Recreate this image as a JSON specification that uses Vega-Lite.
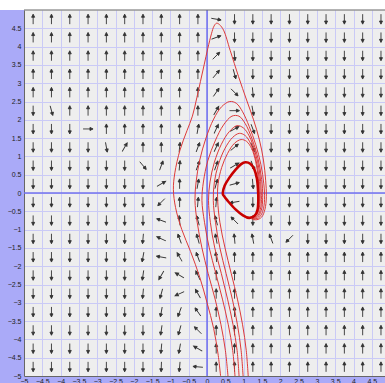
{
"$schema": "https://vega.github.io/schema/vega-lite/v6.json",
"width": 361, "height": 366,
"autosize": {"type": "none"},
"padding": {"left": 24, "top": 10, "right": 0, "bottom": 7},
"background": "#aaaaf8",
"config": {
  "view": {"fill": "#eeeeee", "stroke": null},
  "axis": {"domainColor": "#666666", "domainWidth": 1, "ticks": false, "gridColor": "#cacaf6", "gridWidth": 1, "gridOpacity": 1, "labelFont": "Liberation Sans", "labelFontSize": 7, "labelColor": "#222222", "labelOverlap": false, "labelFlush": false, "labelBound": false, "title": null, "grid": true, "format": "~g", "tickCount": 40},
  "axisX": {"labelPadding": 1},
  "axisY": {"labelPadding": 3}
},
"datasets": {
"field": [
{"x":-4.75,"y":4.75,"a":0},{"x":-4.25,"y":4.75,"a":0},{"x":-3.75,"y":4.75,"a":0},{"x":-3.25,"y":4.75,"a":0},{"x":-2.75,"y":4.75,"a":0},{"x":-2.25,"y":4.75,"a":0},{"x":-1.75,"y":4.75,"a":0},{"x":-1.25,"y":4.75,"a":0},{"x":-0.75,"y":4.75,"a":0},{"x":-0.25,"y":4.75,"a":0},{"x":0.25,"y":4.75,"a":100},{"x":0.75,"y":4.75,"a":180},{"x":1.25,"y":4.75,"a":180},{"x":1.75,"y":4.75,"a":180},{"x":2.25,"y":4.75,"a":180},{"x":2.75,"y":4.75,"a":180},{"x":3.25,"y":4.75,"a":180},{"x":3.75,"y":4.75,"a":180},{"x":4.25,"y":4.75,"a":180},{"x":4.75,"y":4.75,"a":180},
{"x":-4.75,"y":4.25,"a":0},{"x":-4.25,"y":4.25,"a":0},{"x":-3.75,"y":4.25,"a":0},{"x":-3.25,"y":4.25,"a":0},{"x":-2.75,"y":4.25,"a":0},{"x":-2.25,"y":4.25,"a":0},{"x":-1.75,"y":4.25,"a":0},{"x":-1.25,"y":4.25,"a":0},{"x":-0.75,"y":4.25,"a":0},{"x":-0.25,"y":4.25,"a":0},{"x":0.25,"y":4.25,"a":70},{"x":0.75,"y":4.25,"a":180},{"x":1.25,"y":4.25,"a":180},{"x":1.75,"y":4.25,"a":180},{"x":2.25,"y":4.25,"a":180},{"x":2.75,"y":4.25,"a":180},{"x":3.25,"y":4.25,"a":180},{"x":3.75,"y":4.25,"a":180},{"x":4.25,"y":4.25,"a":180},{"x":4.75,"y":4.25,"a":180},
{"x":-4.75,"y":3.75,"a":0},{"x":-4.25,"y":3.75,"a":0},{"x":-3.75,"y":3.75,"a":0},{"x":-3.25,"y":3.75,"a":0},{"x":-2.75,"y":3.75,"a":0},{"x":-2.25,"y":3.75,"a":0},{"x":-1.75,"y":3.75,"a":0},{"x":-1.25,"y":3.75,"a":0},{"x":-0.75,"y":3.75,"a":0},{"x":-0.25,"y":3.75,"a":0},{"x":0.25,"y":3.75,"a":45},{"x":0.75,"y":3.75,"a":175},{"x":1.25,"y":3.75,"a":180},{"x":1.75,"y":3.75,"a":180},{"x":2.25,"y":3.75,"a":180},{"x":2.75,"y":3.75,"a":180},{"x":3.25,"y":3.75,"a":180},{"x":3.75,"y":3.75,"a":180},{"x":4.25,"y":3.75,"a":180},{"x":4.75,"y":3.75,"a":180},
{"x":-4.75,"y":3.25,"a":0},{"x":-4.25,"y":3.25,"a":0},{"x":-3.75,"y":3.25,"a":0},{"x":-3.25,"y":3.25,"a":0},{"x":-2.75,"y":3.25,"a":0},{"x":-2.25,"y":3.25,"a":0},{"x":-1.75,"y":3.25,"a":0},{"x":-1.25,"y":3.25,"a":0},{"x":-0.75,"y":3.25,"a":0},{"x":-0.25,"y":3.25,"a":0},{"x":0.25,"y":3.25,"a":40},{"x":0.75,"y":3.25,"a":165},{"x":1.25,"y":3.25,"a":180},{"x":1.75,"y":3.25,"a":180},{"x":2.25,"y":3.25,"a":180},{"x":2.75,"y":3.25,"a":180},{"x":3.25,"y":3.25,"a":180},{"x":3.75,"y":3.25,"a":180},{"x":4.25,"y":3.25,"a":180},{"x":4.75,"y":3.25,"a":180},
{"x":-4.75,"y":2.75,"a":0},{"x":-4.25,"y":2.75,"a":0},{"x":-3.75,"y":2.75,"a":0},{"x":-3.25,"y":2.75,"a":0},{"x":-2.75,"y":2.75,"a":0},{"x":-2.25,"y":2.75,"a":0},{"x":-1.75,"y":2.75,"a":0},{"x":-1.25,"y":2.75,"a":0},{"x":-0.75,"y":2.75,"a":0},{"x":-0.25,"y":2.75,"a":0},{"x":0.25,"y":2.75,"a":35},{"x":0.75,"y":2.75,"a":135},{"x":1.25,"y":2.75,"a":175},{"x":1.75,"y":2.75,"a":180},{"x":2.25,"y":2.75,"a":180},{"x":2.75,"y":2.75,"a":180},{"x":3.25,"y":2.75,"a":180},{"x":3.75,"y":2.75,"a":180},{"x":4.25,"y":2.75,"a":180},{"x":4.75,"y":2.75,"a":180},
{"x":-4.75,"y":2.25,"a":180},{"x":-4.25,"y":2.25,"a":165},{"x":-3.75,"y":2.25,"a":0},{"x":-3.25,"y":2.25,"a":0},{"x":-2.75,"y":2.25,"a":0},{"x":-2.25,"y":2.25,"a":0},{"x":-1.75,"y":2.25,"a":0},{"x":-1.25,"y":2.25,"a":0},{"x":-0.75,"y":2.25,"a":0},{"x":-0.25,"y":2.25,"a":0},{"x":0.25,"y":2.25,"a":30},{"x":0.75,"y":2.25,"a":90},{"x":1.25,"y":2.25,"a":170},{"x":1.75,"y":2.25,"a":180},{"x":2.25,"y":2.25,"a":180},{"x":2.75,"y":2.25,"a":180},{"x":3.25,"y":2.25,"a":180},{"x":3.75,"y":2.25,"a":180},{"x":4.25,"y":2.25,"a":180},{"x":4.75,"y":2.25,"a":180},
{"x":-4.75,"y":1.75,"a":180},{"x":-4.25,"y":1.75,"a":180},{"x":-3.75,"y":1.75,"a":180},{"x":-3.25,"y":1.75,"a":90},{"x":-2.75,"y":1.75,"a":0},{"x":-2.25,"y":1.75,"a":0},{"x":-1.75,"y":1.75,"a":0},{"x":-1.25,"y":1.75,"a":0},{"x":-0.75,"y":1.75,"a":0},{"x":-0.25,"y":1.75,"a":10},{"x":0.25,"y":1.75,"a":25},{"x":0.75,"y":1.75,"a":60},{"x":1.25,"y":1.75,"a":160},{"x":1.75,"y":1.75,"a":180},{"x":2.25,"y":1.75,"a":180},{"x":2.75,"y":1.75,"a":180},{"x":3.25,"y":1.75,"a":180},{"x":3.75,"y":1.75,"a":180},{"x":4.25,"y":1.75,"a":180},{"x":4.75,"y":1.75,"a":180},
{"x":-4.75,"y":1.25,"a":180},{"x":-4.25,"y":1.25,"a":180},{"x":-3.75,"y":1.25,"a":180},{"x":-3.25,"y":1.25,"a":180},{"x":-2.75,"y":1.25,"a":170},{"x":-2.25,"y":1.25,"a":30},{"x":-1.75,"y":1.25,"a":0},{"x":-1.25,"y":1.25,"a":0},{"x":-0.75,"y":1.25,"a":5},{"x":-0.25,"y":1.25,"a":20},{"x":0.25,"y":1.25,"a":25},{"x":0.75,"y":1.25,"a":50},{"x":1.25,"y":1.25,"a":155},{"x":1.75,"y":1.25,"a":180},{"x":2.25,"y":1.25,"a":180},{"x":2.75,"y":1.25,"a":180},{"x":3.25,"y":1.25,"a":180},{"x":3.75,"y":1.25,"a":180},{"x":4.25,"y":1.25,"a":180},{"x":4.75,"y":1.25,"a":180},
{"x":-4.75,"y":0.75,"a":180},{"x":-4.25,"y":0.75,"a":180},{"x":-3.75,"y":0.75,"a":180},{"x":-3.25,"y":0.75,"a":180},{"x":-2.75,"y":0.75,"a":180},{"x":-2.25,"y":0.75,"a":180},{"x":-1.75,"y":0.75,"a":140},{"x":-1.25,"y":0.75,"a":20},{"x":-0.75,"y":0.75,"a":5},{"x":-0.25,"y":0.75,"a":20},{"x":0.25,"y":0.75,"a":20},{"x":0.75,"y":0.75,"a":60},{"x":1.25,"y":0.75,"a":160},{"x":1.75,"y":0.75,"a":180},{"x":2.25,"y":0.75,"a":180},{"x":2.75,"y":0.75,"a":180},{"x":3.25,"y":0.75,"a":180},{"x":3.75,"y":0.75,"a":180},{"x":4.25,"y":0.75,"a":180},{"x":4.75,"y":0.75,"a":180},
{"x":-4.75,"y":0.25,"a":180},{"x":-4.25,"y":0.25,"a":180},{"x":-3.75,"y":0.25,"a":180},{"x":-3.25,"y":0.25,"a":180},{"x":-2.75,"y":0.25,"a":180},{"x":-2.25,"y":0.25,"a":180},{"x":-1.75,"y":0.25,"a":180},{"x":-1.25,"y":0.25,"a":60},{"x":-0.75,"y":0.25,"a":0},{"x":-0.25,"y":0.25,"a":10},{"x":0.25,"y":0.25,"a":15},{"x":0.75,"y":0.25,"a":75},{"x":1.25,"y":0.25,"a":175},{"x":1.75,"y":0.25,"a":180},{"x":2.25,"y":0.25,"a":180},{"x":2.75,"y":0.25,"a":180},{"x":3.25,"y":0.25,"a":180},{"x":3.75,"y":0.25,"a":180},{"x":4.25,"y":0.25,"a":180},{"x":4.75,"y":0.25,"a":180},
{"x":-4.75,"y":-0.25,"a":180},{"x":-4.25,"y":-0.25,"a":180},{"x":-3.75,"y":-0.25,"a":180},{"x":-3.25,"y":-0.25,"a":180},{"x":-2.75,"y":-0.25,"a":180},{"x":-2.25,"y":-0.25,"a":180},{"x":-1.75,"y":-0.25,"a":180},{"x":-1.25,"y":-0.25,"a":225},{"x":-0.75,"y":-0.25,"a":0},{"x":-0.25,"y":-0.25,"a":5},{"x":0.25,"y":-0.25,"a":5},{"x":0.75,"y":-0.25,"a":260},{"x":1.25,"y":-0.25,"a":180},{"x":1.75,"y":-0.25,"a":180},{"x":2.25,"y":-0.25,"a":180},{"x":2.75,"y":-0.25,"a":180},{"x":3.25,"y":-0.25,"a":180},{"x":3.75,"y":-0.25,"a":180},{"x":4.25,"y":-0.25,"a":180},{"x":4.75,"y":-0.25,"a":180},
{"x":-4.75,"y":-0.75,"a":180},{"x":-4.25,"y":-0.75,"a":180},{"x":-3.75,"y":-0.75,"a":180},{"x":-3.25,"y":-0.75,"a":180},{"x":-2.75,"y":-0.75,"a":180},{"x":-2.25,"y":-0.75,"a":180},{"x":-1.75,"y":-0.75,"a":180},{"x":-1.25,"y":-0.75,"a":290},{"x":-0.75,"y":-0.75,"a":355},{"x":-0.25,"y":-0.75,"a":345},{"x":0.25,"y":-0.75,"a":345},{"x":0.75,"y":-0.75,"a":315},{"x":1.25,"y":-0.75,"a":180},{"x":1.75,"y":-0.75,"a":180},{"x":2.25,"y":-0.75,"a":180},{"x":2.75,"y":-0.75,"a":180},{"x":3.25,"y":-0.75,"a":180},{"x":3.75,"y":-0.75,"a":180},{"x":4.25,"y":-0.75,"a":180},{"x":4.75,"y":-0.75,"a":180},
{"x":-4.75,"y":-1.25,"a":180},{"x":-4.25,"y":-1.25,"a":180},{"x":-3.75,"y":-1.25,"a":180},{"x":-3.25,"y":-1.25,"a":180},{"x":-2.75,"y":-1.25,"a":180},{"x":-2.25,"y":-1.25,"a":180},{"x":-1.75,"y":-1.25,"a":185},{"x":-1.25,"y":-1.25,"a":295},{"x":-0.75,"y":-1.25,"a":340},{"x":-0.25,"y":-1.25,"a":345},{"x":0.25,"y":-1.25,"a":350},{"x":0.75,"y":-1.25,"a":355},{"x":1.25,"y":-1.25,"a":350},{"x":1.75,"y":-1.25,"a":340},{"x":2.25,"y":-1.25,"a":225},{"x":2.75,"y":-1.25,"a":180},{"x":3.25,"y":-1.25,"a":180},{"x":3.75,"y":-1.25,"a":180},{"x":4.25,"y":-1.25,"a":180},{"x":4.75,"y":-1.25,"a":180},
{"x":-4.75,"y":-1.75,"a":180},{"x":-4.25,"y":-1.75,"a":180},{"x":-3.75,"y":-1.75,"a":180},{"x":-3.25,"y":-1.75,"a":180},{"x":-2.75,"y":-1.75,"a":180},{"x":-2.25,"y":-1.75,"a":180},{"x":-1.75,"y":-1.75,"a":190},{"x":-1.25,"y":-1.75,"a":280},{"x":-0.75,"y":-1.75,"a":330},{"x":-0.25,"y":-1.75,"a":340},{"x":0.25,"y":-1.75,"a":355},{"x":0.75,"y":-1.75,"a":0},{"x":1.25,"y":-1.75,"a":0},{"x":1.75,"y":-1.75,"a":0},{"x":2.25,"y":-1.75,"a":0},{"x":2.75,"y":-1.75,"a":0},{"x":3.25,"y":-1.75,"a":0},{"x":3.75,"y":-1.75,"a":0},{"x":4.25,"y":-1.75,"a":0},{"x":4.75,"y":-1.75,"a":0},
{"x":-4.75,"y":-2.25,"a":180},{"x":-4.25,"y":-2.25,"a":180},{"x":-3.75,"y":-2.25,"a":180},{"x":-3.25,"y":-2.25,"a":180},{"x":-2.75,"y":-2.25,"a":180},{"x":-2.25,"y":-2.25,"a":180},{"x":-1.75,"y":-2.25,"a":188},{"x":-1.25,"y":-2.25,"a":210},{"x":-0.75,"y":-2.25,"a":300},{"x":-0.25,"y":-2.25,"a":335},{"x":0.25,"y":-2.25,"a":0},{"x":0.75,"y":-2.25,"a":0},{"x":1.25,"y":-2.25,"a":0},{"x":1.75,"y":-2.25,"a":0},{"x":2.25,"y":-2.25,"a":0},{"x":2.75,"y":-2.25,"a":0},{"x":3.25,"y":-2.25,"a":0},{"x":3.75,"y":-2.25,"a":0},{"x":4.25,"y":-2.25,"a":0},{"x":4.75,"y":-2.25,"a":0},
{"x":-4.75,"y":-2.75,"a":180},{"x":-4.25,"y":-2.75,"a":180},{"x":-3.75,"y":-2.75,"a":180},{"x":-3.25,"y":-2.75,"a":180},{"x":-2.75,"y":-2.75,"a":180},{"x":-2.25,"y":-2.75,"a":180},{"x":-1.75,"y":-2.75,"a":185},{"x":-1.25,"y":-2.75,"a":195},{"x":-0.75,"y":-2.75,"a":245},{"x":-0.25,"y":-2.75,"a":330},{"x":0.25,"y":-2.75,"a":0},{"x":0.75,"y":-2.75,"a":0},{"x":1.25,"y":-2.75,"a":0},{"x":1.75,"y":-2.75,"a":0},{"x":2.25,"y":-2.75,"a":0},{"x":2.75,"y":-2.75,"a":0},{"x":3.25,"y":-2.75,"a":0},{"x":3.75,"y":-2.75,"a":0},{"x":4.25,"y":-2.75,"a":0},{"x":4.75,"y":-2.75,"a":0},
{"x":-4.75,"y":-3.25,"a":180},{"x":-4.25,"y":-3.25,"a":180},{"x":-3.75,"y":-3.25,"a":180},{"x":-3.25,"y":-3.25,"a":180},{"x":-2.75,"y":-3.25,"a":180},{"x":-2.25,"y":-3.25,"a":180},{"x":-1.75,"y":-3.25,"a":182},{"x":-1.25,"y":-3.25,"a":190},{"x":-0.75,"y":-3.25,"a":200},{"x":-0.25,"y":-3.25,"a":325},{"x":0.25,"y":-3.25,"a":0},{"x":0.75,"y":-3.25,"a":0},{"x":1.25,"y":-3.25,"a":0},{"x":1.75,"y":-3.25,"a":0},{"x":2.25,"y":-3.25,"a":0},{"x":2.75,"y":-3.25,"a":0},{"x":3.25,"y":-3.25,"a":0},{"x":3.75,"y":-3.25,"a":0},{"x":4.25,"y":-3.25,"a":0},{"x":4.75,"y":-3.25,"a":0},
{"x":-4.75,"y":-3.75,"a":180},{"x":-4.25,"y":-3.75,"a":180},{"x":-3.75,"y":-3.75,"a":180},{"x":-3.25,"y":-3.75,"a":180},{"x":-2.75,"y":-3.75,"a":180},{"x":-2.25,"y":-3.75,"a":180},{"x":-1.75,"y":-3.75,"a":180},{"x":-1.25,"y":-3.75,"a":188},{"x":-0.75,"y":-3.75,"a":195},{"x":-0.25,"y":-3.75,"a":315},{"x":0.25,"y":-3.75,"a":0},{"x":0.75,"y":-3.75,"a":0},{"x":1.25,"y":-3.75,"a":0},{"x":1.75,"y":-3.75,"a":0},{"x":2.25,"y":-3.75,"a":0},{"x":2.75,"y":-3.75,"a":0},{"x":3.25,"y":-3.75,"a":0},{"x":3.75,"y":-3.75,"a":0},{"x":4.25,"y":-3.75,"a":0},{"x":4.75,"y":-3.75,"a":0},
{"x":-4.75,"y":-4.25,"a":180},{"x":-4.25,"y":-4.25,"a":180},{"x":-3.75,"y":-4.25,"a":180},{"x":-3.25,"y":-4.25,"a":180},{"x":-2.75,"y":-4.25,"a":180},{"x":-2.25,"y":-4.25,"a":180},{"x":-1.75,"y":-4.25,"a":180},{"x":-1.25,"y":-4.25,"a":185},{"x":-0.75,"y":-4.25,"a":190},{"x":-0.25,"y":-4.25,"a":300},{"x":0.25,"y":-4.25,"a":0},{"x":0.75,"y":-4.25,"a":0},{"x":1.25,"y":-4.25,"a":0},{"x":1.75,"y":-4.25,"a":0},{"x":2.25,"y":-4.25,"a":0},{"x":2.75,"y":-4.25,"a":0},{"x":3.25,"y":-4.25,"a":0},{"x":3.75,"y":-4.25,"a":0},{"x":4.25,"y":-4.25,"a":0},{"x":4.75,"y":-4.25,"a":0},
{"x":-4.75,"y":-4.75,"a":180},{"x":-4.25,"y":-4.75,"a":180},{"x":-3.75,"y":-4.75,"a":180},{"x":-3.25,"y":-4.75,"a":180},{"x":-2.75,"y":-4.75,"a":180},{"x":-2.25,"y":-4.75,"a":180},{"x":-1.75,"y":-4.75,"a":180},{"x":-1.25,"y":-4.75,"a":182},{"x":-0.75,"y":-4.75,"a":185},{"x":-0.25,"y":-4.75,"a":275},{"x":0.25,"y":-4.75,"a":0},{"x":0.75,"y":-4.75,"a":0},{"x":1.25,"y":-4.75,"a":0},{"x":1.75,"y":-4.75,"a":0},{"x":2.25,"y":-4.75,"a":0},{"x":2.75,"y":-4.75,"a":0},{"x":3.25,"y":-4.75,"a":0},{"x":3.75,"y":-4.75,"a":0},{"x":4.25,"y":-4.75,"a":0},{"x":4.75,"y":-4.75,"a":0}
],
"orbits": [
{"c":"A","i":0,"x":0.38,"y":-5.1},{"c":"A","i":1,"x":0.3,"y":-4.4},{"c":"A","i":2,"x":0.18,"y":-3.7},{"c":"A","i":3,"x":0.0,"y":-3.0},{"c":"A","i":4,"x":-0.2,"y":-2.3},{"c":"A","i":5,"x":-0.45,"y":-1.6},{"c":"A","i":6,"x":-0.69,"y":-1.0},{"c":"A","i":7,"x":-0.86,"y":-0.4},{"c":"A","i":8,"x":-0.92,"y":0.1},{"c":"A","i":9,"x":-0.88,"y":0.55},{"c":"A","i":10,"x":-0.74,"y":1.17},{"c":"A","i":11,"x":-0.55,"y":1.7},{"c":"A","i":12,"x":-0.4,"y":2.1},{"c":"A","i":13,"x":-0.28,"y":2.6},{"c":"A","i":14,"x":-0.18,"y":3.05},{"c":"A","i":15,"x":-0.08,"y":3.5},{"c":"A","i":16,"x":0.02,"y":3.95},{"c":"A","i":17,"x":0.12,"y":4.35},{"c":"A","i":18,"x":0.19,"y":4.56},{"c":"A","i":19,"x":0.26,"y":4.64},{"c":"A","i":20,"x":0.34,"y":4.6},{"c":"A","i":21,"x":0.45,"y":4.45},{"c":"A","i":22,"x":0.63,"y":3.9},{"c":"A","i":23,"x":0.86,"y":3.18},{"c":"A","i":24,"x":1.08,"y":2.54},{"c":"A","i":25,"x":1.27,"y":2.0},{"c":"A","i":26,"x":1.43,"y":1.45},{"c":"A","i":27,"x":1.54,"y":0.9},{"c":"A","i":28,"x":1.6,"y":0.35},{"c":"A","i":29,"x":1.62,"y":-0.1},{"c":"A","i":30,"x":1.58,"y":-0.45},{"c":"A","i":31,"x":1.49,"y":-0.66},{"c":"A","i":32,"x":1.36,"y":-0.73},{"c":"A","i":33,"x":1.22,"y":-0.72},
{"c":"B","i":0,"x":0.58,"y":-5.1},{"c":"B","i":1,"x":0.5,"y":-4.3},{"c":"B","i":2,"x":0.38,"y":-3.6},{"c":"B","i":3,"x":0.22,"y":-2.9},{"c":"B","i":4,"x":0.03,"y":-2.2},{"c":"B","i":5,"x":-0.14,"y":-1.5},{"c":"B","i":6,"x":-0.27,"y":-0.8},{"c":"B","i":7,"x":-0.33,"y":-0.2},{"c":"B","i":8,"x":-0.3,"y":0.3},{"c":"B","i":9,"x":-0.2,"y":0.9},{"c":"B","i":10,"x":-0.03,"y":1.5},{"c":"B","i":11,"x":0.18,"y":2.02},{"c":"B","i":12,"x":0.4,"y":2.36},{"c":"B","i":13,"x":0.62,"y":2.5},{"c":"B","i":14,"x":0.8,"y":2.45},{"c":"B","i":15,"x":0.97,"y":2.22},{"c":"B","i":16,"x":1.15,"y":1.82},{"c":"B","i":17,"x":1.33,"y":1.32},{"c":"B","i":18,"x":1.47,"y":0.78},{"c":"B","i":19,"x":1.55,"y":0.25},{"c":"B","i":20,"x":1.57,"y":-0.18},{"c":"B","i":21,"x":1.52,"y":-0.5},{"c":"B","i":22,"x":1.41,"y":-0.68},{"c":"B","i":23,"x":1.27,"y":-0.71},
{"c":"C","i":0,"x":0.77,"y":-5.1},{"c":"C","i":1,"x":0.7,"y":-4.3},{"c":"C","i":2,"x":0.58,"y":-3.6},{"c":"C","i":3,"x":0.42,"y":-2.9},{"c":"C","i":4,"x":0.24,"y":-2.2},{"c":"C","i":5,"x":0.06,"y":-1.5},{"c":"C","i":6,"x":-0.07,"y":-0.8},{"c":"C","i":7,"x":-0.14,"y":-0.2},{"c":"C","i":8,"x":-0.1,"y":0.3},{"c":"C","i":9,"x":0.02,"y":0.88},{"c":"C","i":10,"x":0.22,"y":1.42},{"c":"C","i":11,"x":0.45,"y":1.86},{"c":"C","i":12,"x":0.68,"y":2.1},{"c":"C","i":13,"x":0.87,"y":2.1},{"c":"C","i":14,"x":1.04,"y":1.9},{"c":"C","i":15,"x":1.22,"y":1.5},{"c":"C","i":16,"x":1.39,"y":0.95},{"c":"C","i":17,"x":1.49,"y":0.37},{"c":"C","i":18,"x":1.52,"y":-0.12},{"c":"C","i":19,"x":1.48,"y":-0.48},{"c":"C","i":20,"x":1.38,"y":-0.66},{"c":"C","i":21,"x":1.25,"y":-0.7},
{"c":"D","i":0,"x":0.88,"y":-5.1},{"c":"D","i":1,"x":0.82,"y":-4.3},{"c":"D","i":2,"x":0.71,"y":-3.6},{"c":"D","i":3,"x":0.56,"y":-2.9},{"c":"D","i":4,"x":0.39,"y":-2.2},{"c":"D","i":5,"x":0.21,"y":-1.5},{"c":"D","i":6,"x":0.09,"y":-0.8},{"c":"D","i":7,"x":0.04,"y":-0.2},{"c":"D","i":8,"x":0.08,"y":0.3},{"c":"D","i":9,"x":0.2,"y":0.84},{"c":"D","i":10,"x":0.39,"y":1.33},{"c":"D","i":11,"x":0.61,"y":1.68},{"c":"D","i":12,"x":0.82,"y":1.84},{"c":"D","i":13,"x":0.99,"y":1.78},{"c":"D","i":14,"x":1.15,"y":1.56},{"c":"D","i":15,"x":1.31,"y":1.13},{"c":"D","i":16,"x":1.43,"y":0.6},{"c":"D","i":17,"x":1.48,"y":0.05},{"c":"D","i":18,"x":1.47,"y":-0.38},{"c":"D","i":19,"x":1.38,"y":-0.62},{"c":"D","i":20,"x":1.25,"y":-0.69},
{"c":"E","i":0,"x":0.99,"y":-5.1},{"c":"E","i":1,"x":0.93,"y":-4.3},{"c":"E","i":2,"x":0.83,"y":-3.6},{"c":"E","i":3,"x":0.69,"y":-2.9},{"c":"E","i":4,"x":0.52,"y":-2.2},{"c":"E","i":5,"x":0.35,"y":-1.5},{"c":"E","i":6,"x":0.23,"y":-0.8},{"c":"E","i":7,"x":0.17,"y":-0.2},{"c":"E","i":8,"x":0.2,"y":0.3},{"c":"E","i":9,"x":0.31,"y":0.78},{"c":"E","i":10,"x":0.49,"y":1.22},{"c":"E","i":11,"x":0.7,"y":1.52},{"c":"E","i":12,"x":0.88,"y":1.63},{"c":"E","i":13,"x":1.04,"y":1.57},{"c":"E","i":14,"x":1.19,"y":1.35},{"c":"E","i":15,"x":1.33,"y":0.93},{"c":"E","i":16,"x":1.42,"y":0.44},{"c":"E","i":17,"x":1.45,"y":-0.05},{"c":"E","i":18,"x":1.43,"y":-0.4},{"c":"E","i":19,"x":1.35,"y":-0.61},{"c":"E","i":20,"x":1.23,"y":-0.68},
{"c":"F","i":0,"x":1.13,"y":-5.1},{"c":"F","i":1,"x":1.07,"y":-4.3},{"c":"F","i":2,"x":0.97,"y":-3.6},{"c":"F","i":3,"x":0.83,"y":-2.9},{"c":"F","i":4,"x":0.66,"y":-2.2},{"c":"F","i":5,"x":0.49,"y":-1.5},{"c":"F","i":6,"x":0.35,"y":-0.8},{"c":"F","i":7,"x":0.29,"y":-0.2},{"c":"F","i":8,"x":0.3,"y":0.25},{"c":"F","i":9,"x":0.4,"y":0.7},{"c":"F","i":10,"x":0.56,"y":1.08},{"c":"F","i":11,"x":0.75,"y":1.36},{"c":"F","i":12,"x":0.93,"y":1.46},{"c":"F","i":13,"x":1.08,"y":1.41},{"c":"F","i":14,"x":1.22,"y":1.21},{"c":"F","i":15,"x":1.33,"y":0.85},{"c":"F","i":16,"x":1.4,"y":0.4},{"c":"F","i":17,"x":1.42,"y":-0.05},{"c":"F","i":18,"x":1.4,"y":-0.4},{"c":"F","i":19,"x":1.33,"y":-0.6},{"c":"F","i":20,"x":1.22,"y":-0.67}
],
"cycle": [
{"i":0,"x":0.43,"y":0.0},{"i":1,"x":0.48,"y":0.2},{"i":2,"x":0.61,"y":0.42},{"i":3,"x":0.78,"y":0.64},{"i":4,"x":0.93,"y":0.79},{"i":5,"x":1.05,"y":0.84},{"i":6,"x":1.18,"y":0.8},{"i":7,"x":1.29,"y":0.65},{"i":8,"x":1.36,"y":0.4},{"i":9,"x":1.39,"y":0.12},{"i":10,"x":1.4,"y":-0.18},{"i":11,"x":1.38,"y":-0.45},{"i":12,"x":1.3,"y":-0.62},{"i":13,"x":1.15,"y":-0.68},{"i":14,"x":0.98,"y":-0.61},{"i":15,"x":0.77,"y":-0.44},{"i":16,"x":0.56,"y":-0.21},{"i":17,"x":0.46,"y":-0.08}
],
"one": [{"k": 1}]
},
"layer": [
{"data": {"name": "one"},
 "mark": {"type": "rect", "clip": false, "color": "#ffffff"},
 "encoding": {
  "x": {"datum": -6, "type": "quantitative", "scale": {"domain": [-5, 4.86], "nice": false, "zero": false}, "axis": {"values": [-5,-4.5,-4,-3.5,-3,-2.5,-2,-1.5,-1,-0.5,0,0.5,1,1.5,2,2.5,3,3.5,4,4.5], "tickCount": 40, "format": "~g", "title": null, "grid": true, "labelOverlap": false, "labelPadding": 1}},
  "x2": {"datum": 5},
  "y": {"datum": 5.6, "type": "quantitative", "scale": {"domain": [-5, 5], "nice": false, "zero": false}, "axis": {"values": [-5,-4.5,-4,-3.5,-3,-2.5,-2,-1.5,-1,-0.5,0,0.5,1,1.5,2,2.5,3,3.5,4,4.5], "tickCount": 40, "format": "~g", "title": null, "grid": true, "labelOverlap": false, "labelPadding": 3}},
  "y2": {"datum": 5}
 }},
{"data": {"name": "one"},
 "mark": {"type": "rule", "color": "#7272ee", "strokeWidth": 1.6},
 "encoding": {"x": {"datum": 0, "type": "quantitative", "scale": {"domain": [-5, 4.86], "nice": false, "zero": false}}}},
{"data": {"name": "one"},
 "mark": {"type": "rule", "color": "#7272ee", "strokeWidth": 1.6},
 "encoding": {"y": {"datum": 0, "type": "quantitative", "scale": {"domain": [-5, 5], "nice": false, "zero": false}}}},
{"data": {"name": "one"},
 "mark": {"type": "rule", "color": "#666666", "strokeWidth": 1, "clip": false},
 "encoding": {"y": {"datum": 5, "type": "quantitative", "scale": {"domain": [-5, 5], "nice": false, "zero": false}}}},
{"data": {"name": "field"},
 "mark": {"type": "point", "shape": "M0,1L0,-0.45M-0.3,-0.38L0,-1L0.3,-0.38Z", "size": 100, "filled": true, "fill": "#333333", "stroke": "#333333", "strokeWidth": 0.9, "opacity": 1, "clip": true},
 "encoding": {
  "x": {"field": "x", "type": "quantitative", "scale": {"domain": [-5, 4.86], "nice": false, "zero": false}},
  "y": {"field": "y", "type": "quantitative", "scale": {"domain": [-5, 5], "nice": false, "zero": false}},
  "angle": {"field": "a", "type": "quantitative", "scale": null}
 }},
{"data": {"name": "orbits"},
 "mark": {"type": "line", "color": "#dd3a3a", "strokeWidth": 1, "interpolate": "catmull-rom", "clip": true},
 "encoding": {
  "x": {"field": "x", "type": "quantitative", "scale": {"domain": [-5, 4.86], "nice": false, "zero": false}},
  "y": {"field": "y", "type": "quantitative", "scale": {"domain": [-5, 5], "nice": false, "zero": false}},
  "detail": {"field": "c"},
  "order": {"field": "i", "type": "quantitative"}
 }},
{"data": {"name": "cycle"},
 "mark": {"type": "line", "color": "#c80000", "strokeWidth": 2.6, "interpolate": "cardinal-closed", "clip": true},
 "encoding": {
  "x": {"field": "x", "type": "quantitative", "scale": {"domain": [-5, 4.86], "nice": false, "zero": false}},
  "y": {"field": "y", "type": "quantitative", "scale": {"domain": [-5, 5], "nice": false, "zero": false}},
  "order": {"field": "i", "type": "quantitative"}
 }}
]
}
